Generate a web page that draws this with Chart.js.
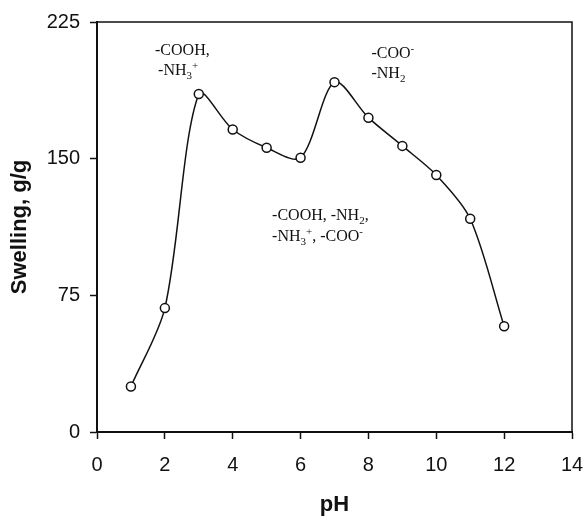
<!DOCTYPE html>
<html>
<head>
<meta charset="utf-8">
<script src="https://cdn.jsdelivr.net/npm/chart.js@4.4.1/dist/chart.umd.min.js"></script>
<style>
  html, body { margin: 0; padding: 0; background: #fff; }
  canvas { display: block; }
</style>
</head>
<body>
<canvas id="swell" width="585" height="518"></canvas>
<script>
// Swelling of the hydrogel vs pH
const phValues = [1, 2, 3, 4, 5, 6, 7, 8, 9, 10, 11, 12];
const swelling = [25, 68, 185.5, 166, 156, 150.5, 192, 172.5, 157, 141, 117, 58];
const xTicks = [0, 2, 4, 6, 8, 10, 12, 14];
const yTicks = [0, 75, 150, 225];

// Group labels, anchored in data units (left edge, baseline)
const groupLabels = [
  { x: 1.71, y: 207, parts: [['-COOH,']] },
  { x: 1.80, y: 196, parts: [['-NH'], ['3', 'sub'], ['+', 'sup']] },
  { x: 8.09, y: 205.5, parts: [['-COO'], ['-', 'sup']] },
  { x: 8.09, y: 194.5, parts: [['-NH'], ['2', 'sub']] },
  { x: 5.16, y: 116.5, parts: [['-COOH, -NH'], ['2', 'sub'], [',']] },
  { x: 5.16, y: 105, parts: [['-NH'], ['3', 'sub'], ['+', 'sup'], [', -COO'], ['-', 'sup']] },
];

const SERIF = "'Liberation Serif', 'Times New Roman', serif";
const SANS = "'Liberation Sans', Arial, sans-serif";

// Plugin: closes the frame (top + right) and writes the group labels
const framePlugin = {
  id: 'frameAndLabels',
  afterDatasetsDraw(chart) {
    const ctx = chart.ctx;
    const { left, right, top, bottom } = chart.chartArea;
    const xs = chart.scales.x, ys = chart.scales.y;

    ctx.save();
    ctx.strokeStyle = '#111';
    ctx.lineWidth = 1.5;
    ctx.beginPath();
    ctx.moveTo(left, top);
    ctx.lineTo(right, top);
    ctx.lineTo(right, bottom);
    ctx.stroke();

    ctx.fillStyle = '#111';
    ctx.textBaseline = 'alphabetic';
    ctx.textAlign = 'left';
    groupLabels.forEach(lbl => {
      let cx = xs.getPixelForValue(lbl.x);
      const cy = ys.getPixelForValue(lbl.y);
      lbl.parts.forEach(([t, kind]) => {
        const small = kind === 'sub' || kind === 'sup';
        ctx.font = (small ? 11 : 16) + 'px ' + SERIF;
        const dy = kind === 'sub' ? 4 : kind === 'sup' ? -6 : 0;
        ctx.fillText(t, cx, cy + dy);
        cx += ctx.measureText(t).width;
      });
    });
    ctx.restore();
  }
};

new Chart(document.getElementById('swell'), {
  type: 'line',
  data: {
    datasets: [{
      data: phValues.map((p, i) => ({ x: p, y: swelling[i] })),
      borderColor: '#111',
      borderWidth: 1.5,
      tension: 0.3,
      pointRadius: 4.5,
      pointBorderWidth: 1.5,
      pointBackgroundColor: '#fff',
      pointBorderColor: '#111',
      fill: false,
    }]
  },
  options: {
    responsive: false,
    animation: false,
    layout: { padding: { left: 0, right: 13, top: 21, bottom: 0 } },
    plugins: { legend: { display: false }, tooltip: { enabled: false } },
    scales: {
      x: {
        type: 'linear',
        min: 0, max: 14,
        afterBuildTicks: s => { s.ticks = xTicks.map(v => ({ value: v })); },
        afterFit: s => { s.height = 86; s.paddingLeft = 0; s.paddingRight = 0; },
        ticks: { color: '#111', font: { family: SANS, size: 20 }, padding: 14, maxRotation: 0 },
        grid: { drawOnChartArea: false, tickLength: 7, tickWidth: 1.5, tickColor: '#111' },
        border: { color: '#111', width: 2 },
        title: { display: true, text: 'pH', color: '#111', font: { family: SANS, size: 22, weight: 'bold' }, padding: { top: 0, bottom: 0 } },
      },
      y: {
        min: 0, max: 225,
        afterBuildTicks: s => { s.ticks = yTicks.map(v => ({ value: v })); },
        afterFit: s => { s.width = 97; },
        ticks: { color: '#111', font: { family: SANS, size: 20 }, padding: 10 },
        grid: { drawOnChartArea: false, tickLength: 7, tickWidth: 1.5, tickColor: '#111' },
        border: { color: '#111', width: 2 },
        title: { display: true, text: 'Swelling, g/g', color: '#111', font: { family: SANS, size: 22, weight: 'bold' }, padding: { top: 7, bottom: 0 } },
      }
    }
  },
  plugins: [framePlugin]
});
</script>
</body>
</html>
